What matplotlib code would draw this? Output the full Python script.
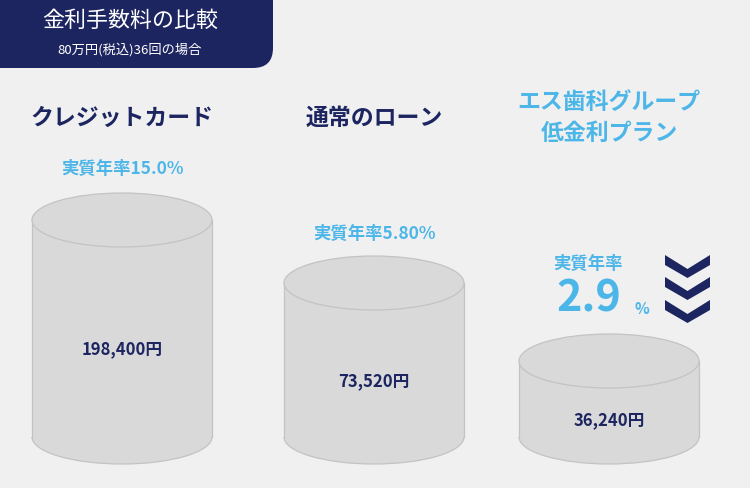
import matplotlib.pyplot as plt
from matplotlib.patches import Ellipse, Arc, Rectangle, FancyBboxPatch, Polygon

plt.rcParams['font.family'] = ['Noto Sans CJK JP', 'DejaVu Sans']

# data
plans = ['クレジットカード', '通常のローン', 'エス歯科グループ\n低金利プラン']
rates = ['15.0', '5.80', '2.9']
amounts = ['198,400円', '73,520円', '36,240円']
cyl_heights = [217, 154, 76]   # drawn height of each cylinder body (px)

NAVY = '#1c2560'
BLUE = '#4db6e8'
BG = '#f0f0f0'
FILL = '#d9d9d9'
EDGE = '#c3c3c3'

fig = plt.figure(figsize=(7.5, 4.88), dpi=100, facecolor=BG)
ax = fig.add_axes([0, 0, 1, 1])
ax.set_xlim(0, 750)
ax.set_ylim(488, 0)
ax.axis('off')

# header box
box = FancyBboxPatch((-30, -30), 303, 98, boxstyle='round,pad=0,rounding_size=20',
                     fc=NAVY, ec='none')
ax.add_patch(box)
ax.text(130, 21, '金利手数料の比較', color='white', fontsize=15.8, ha='center', va='center')
ax.text(130, 50, '80万円(税込)36回の場合', color='white', fontsize=9.5, ha='center', va='center')

centers = [122, 374, 609]
base_y = 437
cyl_w = 180
ry = 27


def cylinder(cx, h):
    top = base_y - h
    ax.add_patch(Ellipse((cx, base_y), cyl_w, 2 * ry, fc=FILL, ec='none', zorder=2))
    ax.add_patch(Rectangle((cx - cyl_w / 2, top), cyl_w, h, fc=FILL, ec='none', zorder=2))
    ax.add_patch(Arc((cx, base_y), cyl_w, 2 * ry, theta1=0, theta2=180, ec=EDGE, lw=0.9, zorder=3))
    ax.plot([cx - cyl_w / 2, cx - cyl_w / 2], [top, base_y], color=EDGE, lw=0.9, zorder=3)
    ax.plot([cx + cyl_w / 2, cx + cyl_w / 2], [top, base_y], color=EDGE, lw=0.9, zorder=3)
    ax.add_patch(Ellipse((cx, top), cyl_w, 2 * ry, fc=FILL, ec=EDGE, lw=0.9, zorder=4))
    return top


for cx, h, amt in zip(centers, cyl_heights, amounts):
    top = cylinder(cx, h)
    ax.text(cx, (top + base_y) / 2 + 21, amt,
            color=NAVY, fontsize=12, fontweight='bold', ha='center', va='center', zorder=5)

# plan titles
ax.text(centers[0], 118, plans[0], color=NAVY, fontsize=16.5, fontweight='bold', ha='center', va='center')
ax.text(centers[1], 118, plans[1], color=NAVY, fontsize=16.5, fontweight='bold', ha='center', va='center')
ax.text(centers[2], 118, plans[2], color=BLUE, fontsize=16.5, fontweight='bold', ha='center', va='center',
        linespacing=1.45)

# rates
ax.text(centers[0], 169, '実質年率' + rates[0] + '%', color=BLUE, fontsize=12.5, fontweight='bold',
        ha='center', va='center')
ax.text(centers[1], 234, '実質年率' + rates[1] + '%', color=BLUE, fontsize=12.5, fontweight='bold',
        ha='center', va='center')
ax.text(588, 264, '実質年率', color=BLUE, fontsize=12.5, fontweight='bold', ha='center', va='center')
ax.text(589, 299, rates[2], color=BLUE, fontsize=31, fontweight='bold', ha='center', va='center')
ax.text(642, 309, '%', color=BLUE, fontsize=11, fontweight='bold', ha='center', va='center')

# chevrons
for y0 in [255, 277, 300]:
    pts = [(665, y0), (687.5, y0 + 14), (710, y0), (710, y0 + 10), (687.5, y0 + 23), (665, y0 + 10)]
    ax.add_patch(Polygon(pts, closed=True, fc=NAVY, ec='none'))

fig.savefig('out.png', dpi=100, facecolor=BG)
